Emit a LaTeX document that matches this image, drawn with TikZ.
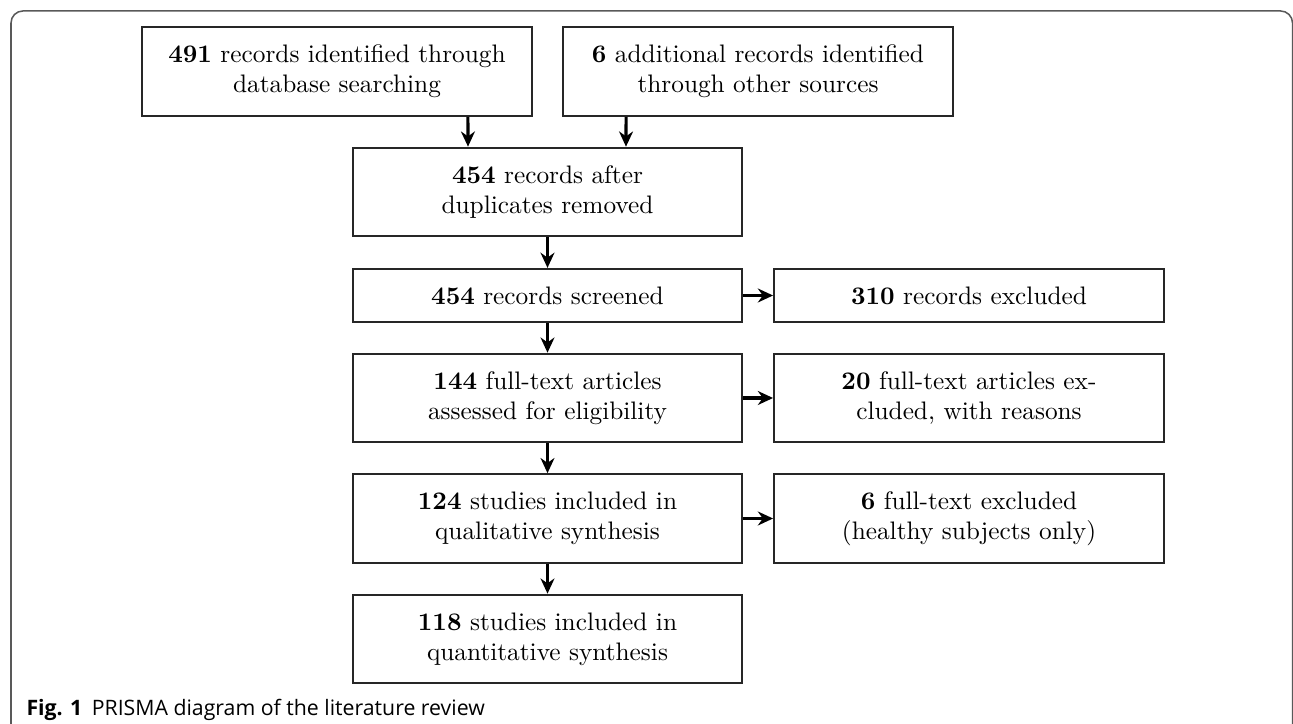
\documentclass[tikz,border=0pt]{standalone}
\usepackage{fontspec}
\newfontfamily\capfont{Open Sans}
\usetikzlibrary{arrows.meta}
\begin{document}
\begin{tikzpicture}[x=0.395pt,y=-0.395pt,
  box/.style={draw=black!85, line width=0.8pt, minimum width=154pt, inner sep=0pt, align=center},
  tall/.style={minimum height=35pt},
  short/.style={minimum height=21pt},
  arr/.style={-{Stealth[length=6pt,width=5.5pt]}, line width=1.25pt},
  frame/.style={draw=black!65, line width=0.6pt, rounded corners=4.7pt}]
\useasboundingbox (0,0) rectangle (1293,724);
\begin{scope}
\clip (0,0) rectangle (1293,724);
\draw[frame] (11,11) rectangle (1292.5,740);
\end{scope}
\node[box,tall] (A) at (337,71.5) {\textbf{491} records identified through\\database searching};
\node[box,tall] (B) at (758,71.5) {\textbf{6} additional records identified\\through other sources};
\node[box,tall] (C) at (547.5,192) {\textbf{454} records after\\duplicates removed};
\node[box,short] (D) at (547.5,295.5) {\textbf{454} records screened};
\node[box,short] (E) at (969,295.5) {\textbf{310} records excluded};
\node[box,tall] (F) at (547.5,398) {\textbf{144} full-text articles\\assessed for eligibility};
\node[box,tall] (G) at (969,398) {\textbf{20} full-text articles ex-\\cluded, with reasons};
\node[box,tall] (H) at (547.5,518.5) {\textbf{124} studies included in\\qualitative synthesis};
\node[box,tall] (I) at (969,518.5) {\textbf{6} full-text excluded\\(healthy subjects only)};
\node[box,tall] (J) at (547.5,639) {\textbf{118} studies included in\\quantitative synthesis};
\draw[arr] ([xshift=51.7pt]A.south) -- ([xshift=-31.4pt]C.north);
\draw[arr] ([xshift=-52.1pt]B.south) -- ([xshift=31pt]C.north);
\draw[arr] (C) -- (D);
\draw[arr] (D) -- (F);
\draw[arr] (F) -- (H);
\draw[arr] (H) -- (J);
\draw[arr] (D) -- (E);
\draw[arr] (F) -- (G);
\draw[arr] (H) -- (I);
\node[anchor=base west, inner sep=0pt, font=\capfont\fontsize{8.4}{10}\selectfont] (cap) at (26,715) {\textbf{Fig. 1}\hspace{0.45em}PRISMA diagram of the literature review};
\end{tikzpicture}
\end{document}
